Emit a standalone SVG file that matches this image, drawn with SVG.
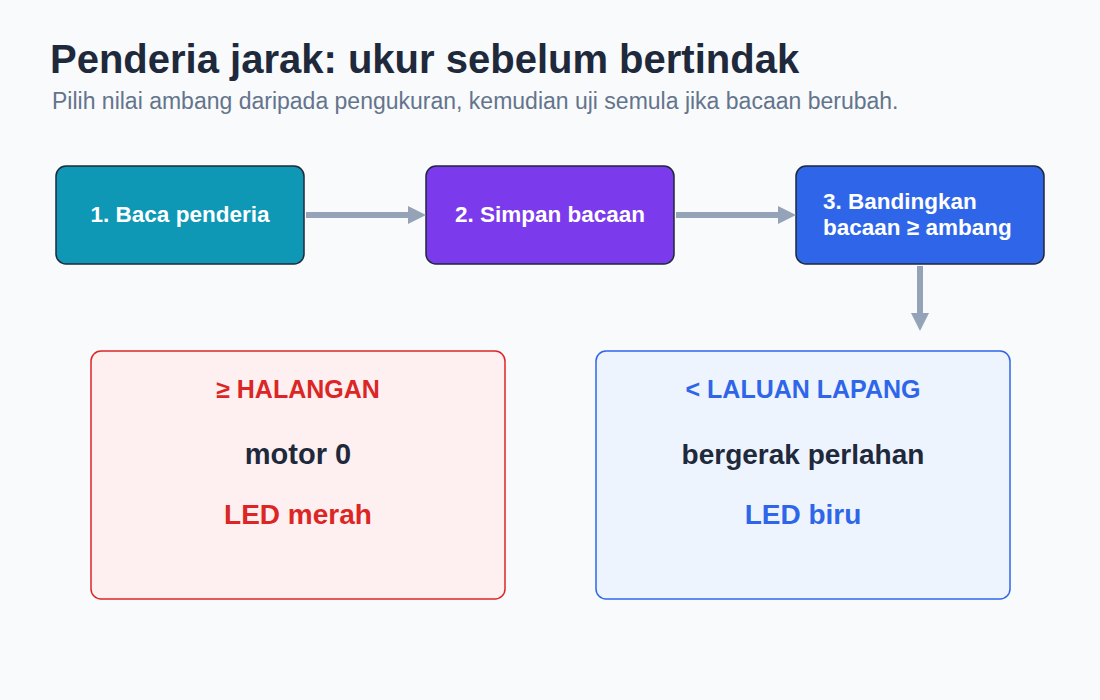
<svg xmlns="http://www.w3.org/2000/svg" width="1100" height="700" viewBox="0 0 1100 700">
<style>
text{font-family:"Liberation Sans",Arial,sans-serif}
.step{stroke:#1e293b;stroke-width:1.5}
.st{fill:#fff;font-size:22.5px;font-weight:bold}
.conn{stroke:#94a3b8;stroke-width:6;fill:none}
</style>
<defs><marker id="ah" markerWidth="4" markerHeight="4" refX="0.5" refY="1.5" orient="auto" markerUnits="strokeWidth"><path d="M0,0L3,1.5L0,3z" fill="#94a3b8"/></marker></defs>
<rect width="1100" height="700" fill="#f8fafc"/>
<text x="50" y="73" font-size="40" font-weight="bold" fill="#1e293b">Penderia jarak: ukur sebelum bertindak</text>
<text x="52" y="109" font-size="23" fill="#64748b">Pilih nilai ambang daripada pengukuran, kemudian uji semula jika bacaan berubah.</text>
<g id="n1"><rect class="step" x="56" y="166" width="248" height="98" rx="10" fill="#0e98b5"/><text class="st" x="180" y="222" text-anchor="middle">1. Baca penderia</text></g>
<g id="n2"><rect class="step" x="426" y="166" width="248" height="98" rx="10" fill="#7c3aed"/><text class="st" x="550" y="222" text-anchor="middle">2. Simpan bacaan</text></g>
<g id="n3"><rect class="step" x="796" y="166" width="248" height="98" rx="10" fill="#2f66e9"/><text class="st" x="823" y="209">3. Bandingkan</text><text class="st" x="823" y="235">bacaan ≥ ambang</text></g>
<g id="n4"><rect x="91" y="351" width="414" height="248" rx="10" fill="#fef0f0" stroke="#dc2626" stroke-width="1.5"/>
<text x="298" y="398" text-anchor="middle" font-size="25" font-weight="bold" fill="#dc2626">≥ HALANGAN</text>
<text x="298" y="464" text-anchor="middle" font-size="29" font-weight="bold" fill="#1e293b">motor 0</text>
<text x="298" y="524" text-anchor="middle" font-size="28" font-weight="bold" fill="#dc2626">LED merah</text></g>
<g id="n5"><rect x="596" y="351" width="414" height="248" rx="10" fill="#eef4fe" stroke="#2f66e9" stroke-width="1.5"/>
<text x="803" y="398" text-anchor="middle" font-size="25" font-weight="bold" fill="#2f66e9">&lt; LALUAN LAPANG</text>
<text x="803" y="464" text-anchor="middle" font-size="28" font-weight="bold" fill="#1e293b">bergerak perlahan</text>
<text x="803" y="524" text-anchor="middle" font-size="28" font-weight="bold" fill="#2f66e9">LED biru</text></g>
<g id="connectors">
<path class="conn" d="M306,215H411" marker-end="url(#ah)"/>
<path class="conn" d="M676,215H781" marker-end="url(#ah)"/>
<path class="conn" d="M920,266V316" marker-end="url(#ah)"/>
</g>
</svg>
